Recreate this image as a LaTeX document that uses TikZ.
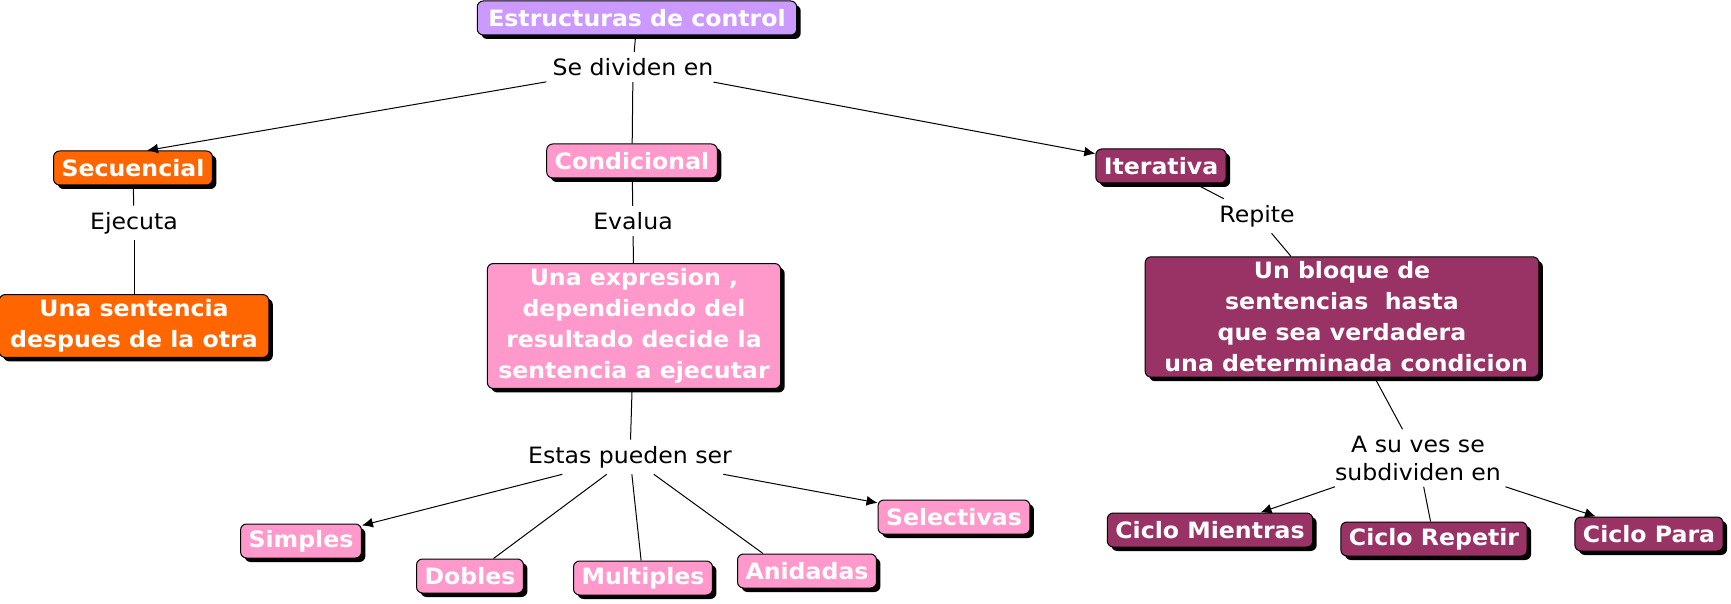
\documentclass[tikz,border=0pt]{standalone}
\usepackage{fontspec}
\setmainfont[FakeStretch=1.05]{DejaVu Sans}
\usepackage{tikz}
\usetikzlibrary{arrows.meta}
\usetikzlibrary{shapes}
\usetikzlibrary{shadows}

\definecolor{lila}{HTML}{CC99FF}
\definecolor{naranja}{HTML}{FF6600}
\definecolor{rosa}{HTML}{FF99CC}
\definecolor{vino}{HTML}{993366}

\tikzset{
  concept/.style={rectangle,rounded corners=3pt,draw=black,line width=0.5pt,text=white,
    font=\fontsize{11.25}{15.5}\selectfont\bfseries,align=center,
    inner xsep=4pt,inner ysep=2.5pt,minimum height=17pt,
    drop shadow={shadow xshift=2pt,shadow yshift=-2pt,opacity=1,fill=black}},
  wide/.style={inner xsep=5.5pt},
  linkword/.style={font=\fontsize{11.25}{14}\selectfont,align=center,inner sep=3pt},
  conn/.style={line width=0.5pt},
  arr/.style={line width=0.5pt,-{Latex[length=5.5pt,width=5pt]}}
}

\begin{document}
\begin{tikzpicture}[x=0.5pt,y=-0.5pt]
\useasboundingbox (0,0) rectangle (1731,604);
\node(Top) at (637,18) [concept,wide,fill=lila]{Estructuras de control};
\node(Div) at (633,67) [linkword]{Se dividen en};
\node(Sec) at (133,168) [concept,fill=naranja]{Secuencial};
\node(Cond) at (632,161) [concept,fill=rosa]{Condicional};
\node(Iter) at (1161,166) [concept,fill=vino]{Iterativa};
\node(Eje) at (134,223) [linkword]{Ejecuta};
\node(Eva) at (633,221) [linkword]{Evalua};
\node(Rep) at (1257,216) [linkword]{Repite};
\node(Sent) at (134,326) [concept,wide,fill=naranja]{Una sentencia\\despues de la otra};
\node(Expr) at (634,326) [concept,wide,fill=rosa]{Una expresion ,\\dependiendo del\\resultado decide la\\sentencia a ejecutar};
\node(Bloq) at (1342,317) [concept,wide,fill=vino]{Un bloque de\\sentencias\ \ hasta\\que sea verdadera\\\ una determinada condicion};
\node(Estas) at (630,457) [linkword]{Estas pueden ser};
\node(Sub) at (1418,458) [linkword]{A su ves se\\subdividen en};
\node(Simp) at (301,541) [concept,fill=rosa]{Simples};
\node(Dob) at (470,576) [concept,fill=rosa]{Dobles};
\node(Mult) at (643,578) [concept,fill=rosa]{Multiples};
\node(Anid) at (807,571) [concept,fill=rosa]{Anidadas};
\node(Selec) at (954,517) [concept,fill=rosa]{Selectivas};
\node(Mien) at (1210,530) [concept,fill=vino]{Ciclo Mientras};
\node(Repe) at (1434,539) [concept,fill=vino]{Ciclo Repetir};
\node(Para) at (1649,534) [concept,fill=vino]{Ciclo Para};
% primer nivel
\draw[conn] (Top) -- (Div);
\draw[arr] (Div) -- ([xshift=7pt]Sec.north);
\draw[conn] (Div) -- (Cond);
\draw[arr] (Div) -- (Iter);
% secuencial
\draw[conn] (Sec) -- (Eje);
\draw[conn] (Eje) -- (Sent);
% condicional
\draw[conn] (Cond) -- (Eva);
\draw[conn] (Eva) -- (Expr);
\draw[conn] (Expr) -- (Estas);
\draw[arr] (Estas) -- (Simp);
\draw[conn] (Estas) -- (Dob);
\draw[conn] (Estas) -- (Mult);
\draw[conn] (Estas) -- ([xshift=-22pt]Anid.north);
\draw[arr] (Estas) -- (Selec);
% iterativa
\draw[conn] (Iter) -- (Rep);
\draw[conn] (Rep) -- (Bloq);
\draw[conn] (Bloq) -- (Sub);
\draw[arr] (Sub) -- (Mien);
\draw[conn] (Sub) -- (Repe);
\draw[arr] (Sub) -- (Para);
\end{tikzpicture}
\end{document}
